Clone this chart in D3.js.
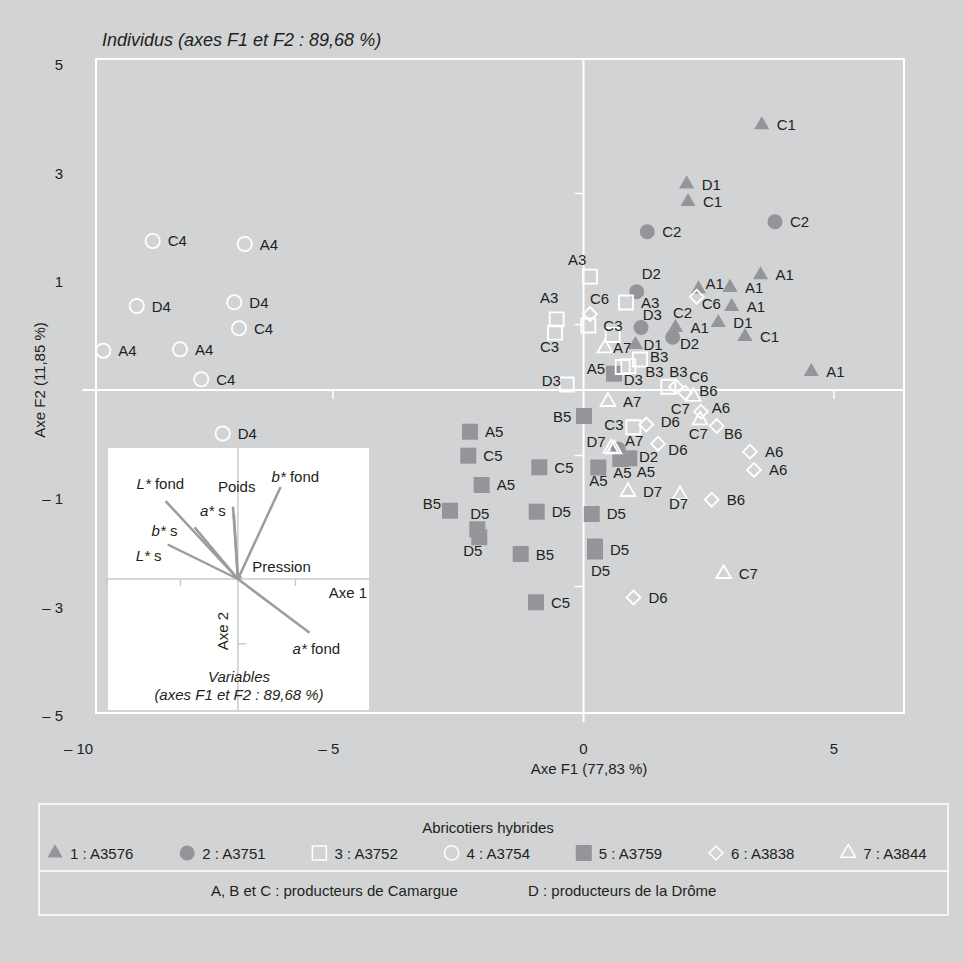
<!DOCTYPE html>
<html>
<head>
<meta charset="utf-8">
<script src="https://cdn.jsdelivr.net/npm/d3@7"></script>
<style>
body { margin: 0; background: #d1d3d4; }
text { font-family: "Liberation Sans", Arial, sans-serif; fill: #231f20; }
</style>
</head>
<body>
<svg id="chart"></svg>
<script>
// Data (ACP des abricots)
var hybrids = ["1 : A3576", "2 : A3751", "3 : A3752", "4 : A3754", "5 : A3759", "6 : A3838", "7 : A3844"];
var xTicks = [-10, -5, 0, 5];
var xTickLabels = ["\u2013 10", "\u2013 5", "0", "5"];
var yTickLabels = ["5", "3", "1", "", "\u2013 1", "\u2013 3", "\u2013 5"];
var axisMarksY = [3, 1, -1, -3];
var axisMarksX = [-5, 5];

// [F1, F2, label] per hybrid
var pts1 = [[3.557, 4.046, "C1"], [2.060, 3.145, "D1"], [2.086, 2.875, "C1"], [3.533, 1.756, "A1"],
  [2.924, 1.565, "A1"], [2.295, 1.542, "A1"], [2.958, 1.272, "A1"], [2.691, 1.027, "D1"],
  [3.224, 0.814, "C1"], [4.547, 0.279, "A1"], [1.836, 0.954, "A1"], [1.038, 0.692, "D1"]];
var pts2 = [[1.273, 2.417, "C2"], [3.822, 2.569, "C2"], [1.062, 1.501, "D2"], [1.148, 0.954, "C2"],
  [1.780, 0.805, "D2"], [0.695, -0.901, "D2"]];
var pts3 = [[0.130, 1.730, "A3"], [-0.535, 1.079, "A3"], [-0.569, 0.875, "C3"], [0.096, 0.985, "C3"],
  [0.848, 1.336, "A3"], [0.583, 0.840, "D3"], [1.128, 0.466, "B3"], [0.894, 0.366, "B3"],
  [0.782, 0.351, "D3"], [1.693, 0.050, "B3"], [-0.335, 0.084, "D3"], [0.994, -0.569, "C3"]];
var pts4 = [[-8.599, 2.275, "C4"], [-6.762, 2.229, "A4"], [-8.918, 1.282, "D4"], [-6.970, 1.339, "D4"],
  [-6.876, 0.942, "C4"], [-9.585, 0.600, "A4"], [-8.054, 0.621, "A4"], [-7.629, 0.163, "C4"],
  [-7.202, -0.664, "D4"]];
var pts5 = [[0.609, 0.249, "A5"], [0.010, -0.397, "B5"], [-2.265, -0.637, "A5"], [-2.299, -1.003, "C5"],
  [-0.882, -1.180, "C5"], [-2.032, -1.450, "A5"], [-2.665, -1.843, "B5"], [-2.120, -2.127, "D5"],
  [-2.080, -2.249, "D5"], [-0.934, -1.858, "D5"], [0.164, -1.893, "D5"], [-1.253, -2.504, "B5"],
  [0.230, -2.389, "D5"], [0.230, -2.466, "D5"], [-0.948, -3.241, "C5"], [0.735, -1.053, "A5"],
  [0.914, -1.043, "A5"], [0.295, -1.183, "A5"]];
var pts6 = [[2.259, 1.424, "C6"], [0.130, 1.160, "C6"], [1.846, 0.050, "C6"], [2.026, -0.041, "B6"],
  [2.345, -0.331, "A6"], [1.253, -0.527, "D6"], [2.659, -0.550, "B6"], [1.487, -0.820, "D6"],
  [3.323, -0.942, "A6"], [3.403, -1.221, "A6"], [2.559, -1.675, "B6"], [0.998, -3.168, "D6"]];
var pts7 = [[0.429, 0.641, "A7"], [2.192, -0.102, "C7"], [2.325, -0.458, "C7"], [0.489, -0.179, "A7"],
  [0.549, -0.890, "D7"], [0.609, -0.901, "A7"], [0.888, -1.553, "D7"], [1.926, -1.603, "D7"],
  [2.798, -2.805, "C7"]];

// cercle des corrélations (inset)
var varNames = ["L* fond", "b* s", "L* s", "a* s", "Poids", "b* fond", "Pression", "a* fond"];
var varF1 = [-0.629, -0.377, -0.611, -0.043, -0.035, 0.371, 0.03, 0.623];
var varF2 = [0.601, 0.398, 0.266, 0.558, 0.50, 0.709, 0.02, -0.415];

// label placement (pixels, left/baseline relative to the marker); default right
var labelShift = {
  "1-5": [7, 0], "1-11": [8, 5],
  "2-2": [5, -12.7], "2-3": [32, -9.5], "2-4": [7.3, 12], "2-5": [20.7, 12.7],
  "3-0": [-22, -11.7], "3-1": [-16.7, -16], "3-2": [-15, 19], "3-5": [30, -15], "3-6": [10, 3],
  "3-7": [17, 11], "3-8": [1, 18], "3-9": [1, -10], "3-10": [-25, 2], "3-11": [-29, 3],
  "5-0": [-27.3, 0], "5-1": [-31, 5.7], "5-6": [-27.3, -1.4], "5-7": [-7, -10], "5-8": [-16, 18.4],
  "5-12": [15, 8.5], "5-13": [-4, 24.5], "5-15": [-7, 19], "5-16": [7.4, 18.4], "5-17": [-9, 19],
  "6-0": [5, 12.6], "6-1": [0, -10], "6-2": [13.3, -5], "6-3": [14.3, 3.3], "6-4": [10.7, 1],
  "6-5": [14.4, 2.5], "6-6": [7.3, 13.3], "6-7": [10.3, 11.3],
  "7-0": [8, 4.7], "7-1": [-22.6, 17.3], "7-2": [-11.3, 19.5], "7-4": [-24.5, -1.3], "7-5": [11, -3],
  "7-7": [-11, 14]
};
var varLabelShift = [[-29, -11.7], [-43, 9], [-32, 17], [-33, 9.7], [-16, -22], [-9, -4.7], [11, -4], [-17, 20.7]];

var W = 964, H = 962;
var gray = "#939598";

var svg = d3.select("#chart").attr("width", W).attr("height", H);
svg.append("rect").attr("width", W).attr("height", H).attr("fill", "#d1d3d4");

var x = d3.scaleLinear().domain([-10, 5]).range([82.5, 834]);
var y = d3.scaleLinear().domain([-5, 5]).range([717.5, 62.5]);

// shapes per hybrid
var shapes = {
  1: {sym: d3.symbolTriangle, size: 100, fill: gray, stroke: "none"},
  2: {sym: d3.symbolCircle, size: 177, fill: gray, stroke: "none"},
  3: {sym: d3.symbolSquare, size: 196, fill: "none", stroke: "#fff"},
  4: {sym: d3.symbolCircle, size: 160, fill: "none", stroke: "#fff"},
  5: {sym: d3.symbolSquare, size: 256, fill: gray, stroke: "none"},
  6: {sym: d3.symbolSquare, size: 95, fill: "none", stroke: "#fff", rot: 45},
  7: {sym: d3.symbolTriangle, size: 95, fill: "none", stroke: "#fff"}
};
var series = [[1, pts1], [2, pts2], [5, pts5], [3, pts3], [4, pts4], [6, pts6], [7, pts7]];

// title
svg.append("text").attr("x", 102).attr("y", 46)
  .style("font-size", "18px").style("font-style", "italic")
  .text("Individus (axes F1 et F2 : 89,68 %)");

// frame
svg.append("rect").attr("x", 96).attr("y", 59).attr("width", 808).attr("height", 654)
  .attr("fill", "none").attr("stroke", "#fff").attr("stroke-width", 2);

// zero axes
svg.append("line").attr("x1", x(-10)).attr("x2", 904).attr("y1", y(0)).attr("y2", y(0))
  .attr("stroke", "#fff").attr("stroke-width", 2);
svg.append("line").attr("x1", x(0)).attr("x2", x(0)).attr("y1", 59).attr("y2", 722)
  .attr("stroke", "#fff").attr("stroke-width", 2);
svg.selectAll(".ty").data(axisMarksY).enter().append("line")
  .attr("x1", x(0) - 9).attr("x2", x(0)).attr("y1", d => y(d)).attr("y2", d => y(d))
  .attr("stroke", "#fff").attr("stroke-width", 1.5);
svg.selectAll(".tx").data(axisMarksX).enter().append("line")
  .attr("x1", d => x(d)).attr("x2", d => x(d)).attr("y1", y(0)).attr("y2", y(0) + 9)
  .attr("stroke", "#fff").attr("stroke-width", 1.5);

// tick labels
svg.selectAll(".xl").data(xTicks).enter().append("text")
  .attr("x", d => x(d) - (d < 0 ? 4 : 0)).attr("y", 754)
  .attr("text-anchor", "middle").style("font-size", "15px")
  .text((d, i) => xTickLabels[i]);
var yLab = d3.scalePoint().domain(yTickLabels).range([65, 716]);
svg.selectAll(".yl").data(yTickLabels.filter(d => d !== "")).enter().append("text")
  .attr("x", 63).attr("y", d => yLab(d)).attr("dy", "0.35em")
  .attr("text-anchor", "end").style("font-size", "15px")
  .text(d => d);

// axis titles
svg.append("text").attr("x", 589).attr("y", 774).attr("text-anchor", "middle")
  .style("font-size", "15px").text("Axe F1 (77,83 %)");
svg.append("text").attr("transform", "translate(45,380) rotate(-90)").attr("text-anchor", "middle")
  .style("font-size", "15px").text("Axe F2 (11,85 %)");

// inset : variables
var inset = svg.append("g");
inset.append("rect").attr("x", 108).attr("y", 448).attr("width", 261).attr("height", 262).attr("fill", "#fff");
var ix = d3.scaleLinear().domain([-1.13, 1.14]).range([108, 369]);
var iy = d3.scaleLinear().domain([-1.01, 1.01]).range([710, 448]);
var axCol = "#c9cacc";
inset.append("line").attr("x1", 106).attr("x2", 369).attr("y1", iy(0)).attr("y2", iy(0))
  .attr("stroke", axCol).attr("stroke-width", 1.5);
inset.append("line").attr("x1", ix(0)).attr("x2", ix(0)).attr("y1", 448).attr("y2", 710)
  .attr("stroke", axCol).attr("stroke-width", 1.5);
inset.selectAll(".itx").data([-1.14, -0.5, 0.5]).enter().append("line")
  .attr("x1", d => ix(d)).attr("x2", d => ix(d)).attr("y1", iy(0)).attr("y2", iy(0) + 7)
  .attr("stroke", axCol).attr("stroke-width", 1.5);
inset.append("line").attr("x1", ix(0)).attr("x2", ix(0) + 8).attr("y1", iy(-0.5)).attr("y2", iy(-0.5))
  .attr("stroke", axCol).attr("stroke-width", 1.5);

inset.selectAll(".vec").data(varNames).enter().append("line")
  .attr("x1", ix(0)).attr("y1", iy(0))
  .attr("x2", (d, i) => ix(varF1[i])).attr("y2", (d, i) => iy(varF2[i]))
  .attr("stroke", "#9a9c9f").attr("stroke-width", 2.5);

inset.selectAll(".vl").data(varNames).enter().append("text")
  .attr("x", (d, i) => ix(varF1[i]) + varLabelShift[i][0])
  .attr("y", (d, i) => iy(varF2[i]) + varLabelShift[i][1])
  .style("font-size", "15px")
  .each(function(d) {
    var t = d3.select(this);
    var k = d.indexOf("*");
    if (k < 0) { t.text(d); return; }
    t.append("tspan").style("font-style", "italic").text(d.slice(0, k + 1));
    t.append("tspan").text(d.slice(k + 1));
  });

inset.append("text").attr("x", 367).attr("y", 598).attr("text-anchor", "end")
  .style("font-size", "15px").text("Axe 1");
inset.append("text").attr("transform", "translate(228,631) rotate(-90)").attr("text-anchor", "middle")
  .style("font-size", "15px").text("Axe 2");
inset.append("text").attr("x", 239).attr("y", 682).attr("text-anchor", "middle")
  .style("font-size", "15px").style("font-style", "italic").text("Variables");
inset.append("text").attr("x", 239).attr("y", 700).attr("text-anchor", "middle")
  .style("font-size", "15px").style("font-style", "italic").text("(axes F1 et F2 : 89,68 %)");

// markers
function symPath(id) {
  return d3.symbol().type(shapes[id].sym).size(shapes[id].size)();
}
series.forEach(function(s) {
  var id = s[0], sh = shapes[id];
  svg.append("g").selectAll("path").data(s[1]).enter().append("path")
    .attr("d", symPath(id))
    .attr("transform", d => `translate(${x(d[0])},${y(d[1])})` + (sh.rot ? ` rotate(${sh.rot})` : ""))
    .attr("fill", sh.fill)
    .attr("stroke", sh.stroke)
    .attr("stroke-width", sh.stroke === "none" ? 0 : 1.8);
});

// point labels
series.forEach(function(s) {
  var id = s[0];
  svg.append("g").selectAll("text").data(s[1]).enter().append("text")
    .attr("x", (d, i) => x(d[0]) + (labelShift[id + "-" + i] || [15, 5.5])[0])
    .attr("y", (d, i) => y(d[1]) + (labelShift[id + "-" + i] || [15, 5.5])[1])
    .style("font-size", "15px")
    .text(d => d[2]);
});

// legend
var lg = svg.append("g");
lg.append("rect").attr("x", 39).attr("y", 804).attr("width", 909).attr("height", 111)
  .attr("fill", "none").attr("stroke", "#fff").attr("stroke-width", 1.5);
lg.append("line").attr("x1", 39).attr("x2", 948).attr("y1", 871).attr("y2", 871)
  .attr("stroke", "#fff").attr("stroke-width", 1.5);
lg.append("text").attr("x", 488).attr("y", 833).attr("text-anchor", "middle")
  .style("font-size", "15px").text("Abricotiers hybrides");
var item = lg.selectAll(".it").data(hybrids).enter().append("g")
  .attr("transform", (d, i) => `translate(${55 + i * 132.2},853)`);
item.append("path")
  .attr("d", (d, i) => symPath(i + 1))
  .attr("transform", (d, i) => shapes[i + 1].rot ? "rotate(45)" : null)
  .attr("fill", (d, i) => shapes[i + 1].fill)
  .attr("stroke", (d, i) => shapes[i + 1].stroke)
  .attr("stroke-width", (d, i) => shapes[i + 1].stroke === "none" ? 0 : 1.5);
item.append("text").attr("x", 15).attr("y", 5.5).style("font-size", "15px").text(d => d);
lg.append("text").attr("x", 211).attr("y", 896).style("font-size", "15px")
  .text("A, B et C : producteurs de Camargue");
lg.append("text").attr("x", 528).attr("y", 896).style("font-size", "15px")
  .text("D : producteurs de la Drôme");
</script>
</body>
</html>
